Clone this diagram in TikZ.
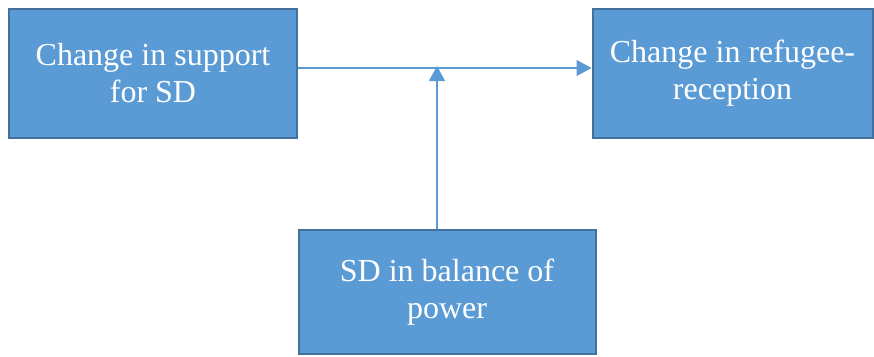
\documentclass[tikz,border=0pt]{standalone}
\usepackage{fontspec}
\setmainfont{Liberation Serif}
\definecolor{BleuBoite}{HTML}{5B9BD5}
\definecolor{BleuBord}{HTML}{41719C}
\usetikzlibrary{arrows.meta}
\usetikzlibrary{positioning}
\usetikzlibrary{calc}
\tikzset{
	boite/.style={draw=BleuBord, line width=2pt, fill=BleuBoite, text=white,
		align=center, inner sep=0pt, font=\fontsize{32}{37}\selectfont},
	fleche/.style={draw=BleuBoite, line width=1.1pt,
		arrows={-Triangle[length=15pt, width=16pt]}}
}
\begin{document}
\begin{tikzpicture}[x=1pt,y=-1pt]
    \useasboundingbox (0,0) rectangle (874,356);
    % Draw the three boxes.
    \node[boite, minimum width=288pt, minimum height=129pt] (support) at (153,73) {Change in support\\for SD};
    \node[boite, minimum width=280pt, minimum height=129pt] (refugee) at (732.5,73) {Change in refugee-\\reception};
    \node[boite, minimum width=297pt, minimum height=124pt] (balance) at (447,292) {SD in balance of\\power};
    \coordinate (hit) at (437,66);
    % Draw the arrows.
    \draw[fleche] (support.east |- 0,68) -- (refugee.west |- 0,68);
    \draw[fleche] (balance.north -| hit) -- (hit);
\end{tikzpicture}
\end{document}
